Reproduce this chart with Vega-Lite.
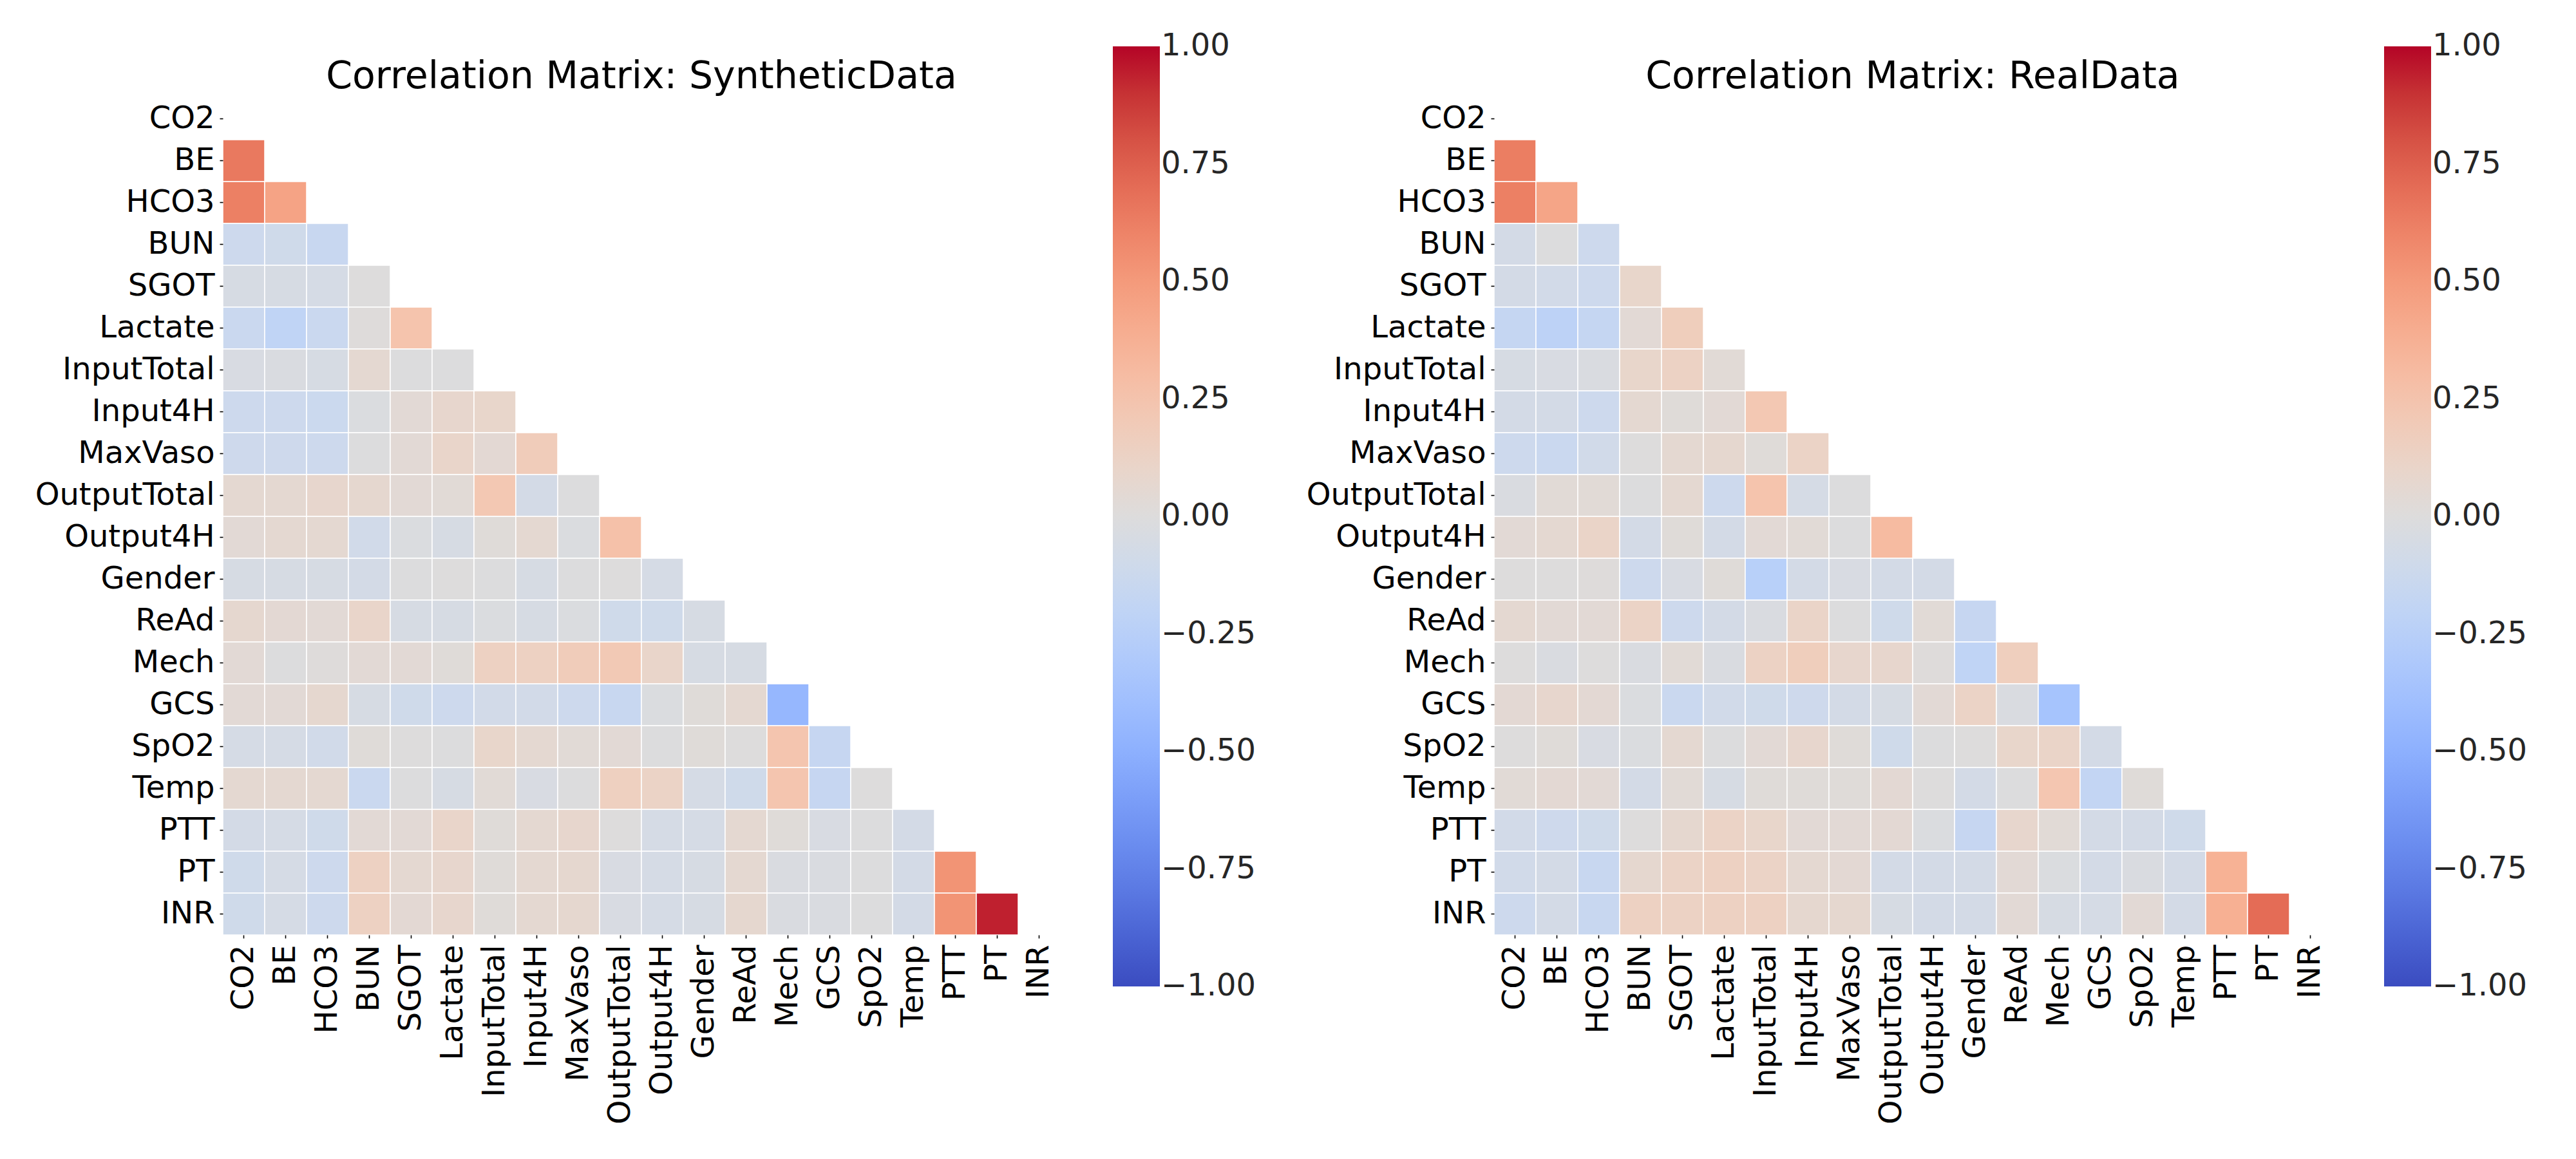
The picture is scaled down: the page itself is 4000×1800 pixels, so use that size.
{
  "$schema": "https://vega.github.io/schema/vega-lite/v6.json",
  "background": "white",
  "padding": {"left": 54, "top": 72, "right": 5, "bottom": 5},
  "datasets": {
    "synthetic": [
      {"row":"BE","col":"CO2","value":0.65},
      {"row":"HCO3","col":"CO2","value":0.62},{"row":"HCO3","col":"BE","value":0.45},
      {"row":"BUN","col":"CO2","value":-0.12},{"row":"BUN","col":"BE","value":-0.10},{"row":"BUN","col":"HCO3","value":-0.15},
      {"row":"SGOT","col":"CO2","value":-0.05},{"row":"SGOT","col":"BE","value":-0.05},{"row":"SGOT","col":"HCO3","value":-0.06},{"row":"SGOT","col":"BUN","value":0.00},
      {"row":"Lactate","col":"CO2","value":-0.14},{"row":"Lactate","col":"BE","value":-0.20},{"row":"Lactate","col":"HCO3","value":-0.14},{"row":"Lactate","col":"BUN","value":0.01},{"row":"Lactate","col":"SGOT","value":0.25},
      {"row":"InputTotal","col":"CO2","value":-0.04},{"row":"InputTotal","col":"BE","value":-0.03},{"row":"InputTotal","col":"HCO3","value":-0.05},{"row":"InputTotal","col":"BUN","value":0.06},{"row":"InputTotal","col":"SGOT","value":-0.01},{"row":"InputTotal","col":"Lactate","value":-0.01},
      {"row":"Input4H","col":"CO2","value":-0.12},{"row":"Input4H","col":"BE","value":-0.12},{"row":"Input4H","col":"HCO3","value":-0.13},{"row":"Input4H","col":"BUN","value":-0.02},{"row":"Input4H","col":"SGOT","value":0.04},{"row":"Input4H","col":"Lactate","value":0.08},{"row":"Input4H","col":"InputTotal","value":0.09},
      {"row":"MaxVaso","col":"CO2","value":-0.11},{"row":"MaxVaso","col":"BE","value":-0.11},{"row":"MaxVaso","col":"HCO3","value":-0.12},{"row":"MaxVaso","col":"BUN","value":-0.01},{"row":"MaxVaso","col":"SGOT","value":0.04},{"row":"MaxVaso","col":"Lactate","value":0.10},{"row":"MaxVaso","col":"InputTotal","value":0.05},{"row":"MaxVaso","col":"Input4H","value":0.18},
      {"row":"OutputTotal","col":"CO2","value":0.06},{"row":"OutputTotal","col":"BE","value":0.06},{"row":"OutputTotal","col":"HCO3","value":0.08},{"row":"OutputTotal","col":"BUN","value":0.07},{"row":"OutputTotal","col":"SGOT","value":0.04},{"row":"OutputTotal","col":"Lactate","value":0.03},{"row":"OutputTotal","col":"InputTotal","value":0.22},{"row":"OutputTotal","col":"Input4H","value":-0.07},{"row":"OutputTotal","col":"MaxVaso","value":-0.01},
      {"row":"Output4H","col":"CO2","value":0.04},{"row":"Output4H","col":"BE","value":0.06},{"row":"Output4H","col":"HCO3","value":0.06},{"row":"Output4H","col":"BUN","value":-0.09},{"row":"Output4H","col":"SGOT","value":-0.02},{"row":"Output4H","col":"Lactate","value":-0.05},{"row":"Output4H","col":"InputTotal","value":0.02},{"row":"Output4H","col":"Input4H","value":0.06},{"row":"Output4H","col":"MaxVaso","value":-0.02},{"row":"Output4H","col":"OutputTotal","value":0.27},
      {"row":"Gender","col":"CO2","value":-0.05},{"row":"Gender","col":"BE","value":-0.05},{"row":"Gender","col":"HCO3","value":-0.05},{"row":"Gender","col":"BUN","value":-0.07},{"row":"Gender","col":"SGOT","value":-0.01},{"row":"Gender","col":"Lactate","value":0.00},{"row":"Gender","col":"InputTotal","value":-0.01},{"row":"Gender","col":"Input4H","value":-0.05},{"row":"Gender","col":"MaxVaso","value":-0.01},{"row":"Gender","col":"OutputTotal","value":0.00},{"row":"Gender","col":"Output4H","value":-0.06},
      {"row":"ReAd","col":"CO2","value":0.07},{"row":"ReAd","col":"BE","value":0.05},{"row":"ReAd","col":"HCO3","value":0.04},{"row":"ReAd","col":"BUN","value":0.10},{"row":"ReAd","col":"SGOT","value":-0.05},{"row":"ReAd","col":"Lactate","value":-0.05},{"row":"ReAd","col":"InputTotal","value":-0.02},{"row":"ReAd","col":"Input4H","value":-0.05},{"row":"ReAd","col":"MaxVaso","value":-0.02},{"row":"ReAd","col":"OutputTotal","value":-0.10},{"row":"ReAd","col":"Output4H","value":-0.10},{"row":"ReAd","col":"Gender","value":-0.05},
      {"row":"Mech","col":"CO2","value":0.04},{"row":"Mech","col":"BE","value":-0.01},{"row":"Mech","col":"HCO3","value":0.01},{"row":"Mech","col":"BUN","value":0.04},{"row":"Mech","col":"SGOT","value":0.04},{"row":"Mech","col":"Lactate","value":0.02},{"row":"Mech","col":"InputTotal","value":0.14},{"row":"Mech","col":"Input4H","value":0.14},{"row":"Mech","col":"MaxVaso","value":0.18},{"row":"Mech","col":"OutputTotal","value":0.21},{"row":"Mech","col":"Output4H","value":0.10},{"row":"Mech","col":"Gender","value":-0.05},{"row":"Mech","col":"ReAd","value":-0.05},
      {"row":"GCS","col":"CO2","value":0.04},{"row":"GCS","col":"BE","value":0.04},{"row":"GCS","col":"HCO3","value":0.07},{"row":"GCS","col":"BUN","value":-0.05},{"row":"GCS","col":"SGOT","value":-0.10},{"row":"GCS","col":"Lactate","value":-0.12},{"row":"GCS","col":"InputTotal","value":-0.08},{"row":"GCS","col":"Input4H","value":-0.08},{"row":"GCS","col":"MaxVaso","value":-0.12},{"row":"GCS","col":"OutputTotal","value":-0.15},{"row":"GCS","col":"Output4H","value":-0.02},{"row":"GCS","col":"Gender","value":0.02},{"row":"GCS","col":"ReAd","value":0.06},{"row":"GCS","col":"Mech","value":-0.45},
      {"row":"SpO2","col":"CO2","value":-0.06},{"row":"SpO2","col":"BE","value":-0.06},{"row":"SpO2","col":"HCO3","value":-0.09},{"row":"SpO2","col":"BUN","value":0.02},{"row":"SpO2","col":"SGOT","value":0.00},{"row":"SpO2","col":"Lactate","value":-0.01},{"row":"SpO2","col":"InputTotal","value":0.09},{"row":"SpO2","col":"Input4H","value":0.06},{"row":"SpO2","col":"MaxVaso","value":0.03},{"row":"SpO2","col":"OutputTotal","value":0.04},{"row":"SpO2","col":"Output4H","value":-0.01},{"row":"SpO2","col":"Gender","value":0.02},{"row":"SpO2","col":"ReAd","value":0.00},{"row":"SpO2","col":"Mech","value":0.24},{"row":"SpO2","col":"GCS","value":-0.16},
      {"row":"Temp","col":"CO2","value":0.06},{"row":"Temp","col":"BE","value":0.06},{"row":"Temp","col":"HCO3","value":0.06},{"row":"Temp","col":"BUN","value":-0.14},{"row":"Temp","col":"SGOT","value":-0.01},{"row":"Temp","col":"Lactate","value":-0.05},{"row":"Temp","col":"InputTotal","value":0.03},{"row":"Temp","col":"Input4H","value":-0.04},{"row":"Temp","col":"MaxVaso","value":-0.01},{"row":"Temp","col":"OutputTotal","value":0.15},{"row":"Temp","col":"Output4H","value":0.12},{"row":"Temp","col":"Gender","value":-0.06},{"row":"Temp","col":"ReAd","value":-0.10},{"row":"Temp","col":"Mech","value":0.24},{"row":"Temp","col":"GCS","value":-0.16},{"row":"Temp","col":"SpO2","value":0.00},
      {"row":"PTT","col":"CO2","value":-0.07},{"row":"PTT","col":"BE","value":-0.06},{"row":"PTT","col":"HCO3","value":-0.10},{"row":"PTT","col":"BUN","value":0.04},{"row":"PTT","col":"SGOT","value":0.04},{"row":"PTT","col":"Lactate","value":0.10},{"row":"PTT","col":"InputTotal","value":0.02},{"row":"PTT","col":"Input4H","value":0.06},{"row":"PTT","col":"MaxVaso","value":0.08},{"row":"PTT","col":"OutputTotal","value":0.00},{"row":"PTT","col":"Output4H","value":-0.06},{"row":"PTT","col":"Gender","value":-0.06},{"row":"PTT","col":"ReAd","value":0.06},{"row":"PTT","col":"Mech","value":0.02},{"row":"PTT","col":"GCS","value":-0.04},{"row":"PTT","col":"SpO2","value":-0.01},{"row":"PTT","col":"Temp","value":-0.07},
      {"row":"PT","col":"CO2","value":-0.10},{"row":"PT","col":"BE","value":-0.06},{"row":"PT","col":"HCO3","value":-0.12},{"row":"PT","col":"BUN","value":0.14},{"row":"PT","col":"SGOT","value":0.06},{"row":"PT","col":"Lactate","value":0.08},{"row":"PT","col":"InputTotal","value":0.02},{"row":"PT","col":"Input4H","value":0.06},{"row":"PT","col":"MaxVaso","value":0.07},{"row":"PT","col":"OutputTotal","value":-0.04},{"row":"PT","col":"Output4H","value":-0.06},{"row":"PT","col":"Gender","value":-0.05},{"row":"PT","col":"ReAd","value":0.06},{"row":"PT","col":"Mech","value":-0.03},{"row":"PT","col":"GCS","value":-0.03},{"row":"PT","col":"SpO2","value":-0.01},{"row":"PT","col":"Temp","value":-0.07},{"row":"PT","col":"PTT","value":0.53},
      {"row":"INR","col":"CO2","value":-0.10},{"row":"INR","col":"BE","value":-0.06},{"row":"INR","col":"HCO3","value":-0.12},{"row":"INR","col":"BUN","value":0.14},{"row":"INR","col":"SGOT","value":0.05},{"row":"INR","col":"Lactate","value":0.08},{"row":"INR","col":"InputTotal","value":0.02},{"row":"INR","col":"Input4H","value":0.06},{"row":"INR","col":"MaxVaso","value":0.07},{"row":"INR","col":"OutputTotal","value":-0.04},{"row":"INR","col":"Output4H","value":-0.06},{"row":"INR","col":"Gender","value":-0.05},{"row":"INR","col":"ReAd","value":0.07},{"row":"INR","col":"Mech","value":-0.03},{"row":"INR","col":"GCS","value":-0.03},{"row":"INR","col":"SpO2","value":-0.01},{"row":"INR","col":"Temp","value":-0.07},{"row":"INR","col":"PTT","value":0.53},{"row":"INR","col":"PT","value":0.94}
    ],
    "real": [
      {"row":"BE","col":"CO2","value":0.63},
      {"row":"HCO3","col":"CO2","value":0.62},{"row":"HCO3","col":"BE","value":0.44},
      {"row":"BUN","col":"CO2","value":-0.07},{"row":"BUN","col":"BE","value":-0.01},{"row":"BUN","col":"HCO3","value":-0.12},
      {"row":"SGOT","col":"CO2","value":-0.07},{"row":"SGOT","col":"BE","value":-0.08},{"row":"SGOT","col":"HCO3","value":-0.12},{"row":"SGOT","col":"BUN","value":0.09},
      {"row":"Lactate","col":"CO2","value":-0.17},{"row":"Lactate","col":"BE","value":-0.22},{"row":"Lactate","col":"HCO3","value":-0.17},{"row":"Lactate","col":"BUN","value":0.04},{"row":"Lactate","col":"SGOT","value":0.17},
      {"row":"InputTotal","col":"CO2","value":-0.05},{"row":"InputTotal","col":"BE","value":-0.04},{"row":"InputTotal","col":"HCO3","value":-0.03},{"row":"InputTotal","col":"BUN","value":0.09},{"row":"InputTotal","col":"SGOT","value":0.13},{"row":"InputTotal","col":"Lactate","value":0.03},
      {"row":"Input4H","col":"CO2","value":-0.07},{"row":"Input4H","col":"BE","value":-0.07},{"row":"Input4H","col":"HCO3","value":-0.12},{"row":"Input4H","col":"BUN","value":0.06},{"row":"Input4H","col":"SGOT","value":0.02},{"row":"Input4H","col":"Lactate","value":0.04},{"row":"Input4H","col":"InputTotal","value":0.22},
      {"row":"MaxVaso","col":"CO2","value":-0.12},{"row":"MaxVaso","col":"BE","value":-0.14},{"row":"MaxVaso","col":"HCO3","value":-0.09},{"row":"MaxVaso","col":"BUN","value":0.00},{"row":"MaxVaso","col":"SGOT","value":0.06},{"row":"MaxVaso","col":"Lactate","value":0.07},{"row":"MaxVaso","col":"InputTotal","value":0.02},{"row":"MaxVaso","col":"Input4H","value":0.12},
      {"row":"OutputTotal","col":"CO2","value":-0.03},{"row":"OutputTotal","col":"BE","value":0.03},{"row":"OutputTotal","col":"HCO3","value":0.03},{"row":"OutputTotal","col":"BUN","value":-0.01},{"row":"OutputTotal","col":"SGOT","value":0.06},{"row":"OutputTotal","col":"Lactate","value":-0.12},{"row":"OutputTotal","col":"InputTotal","value":0.25},{"row":"OutputTotal","col":"Input4H","value":-0.06},{"row":"OutputTotal","col":"MaxVaso","value":-0.01},
      {"row":"Output4H","col":"CO2","value":0.04},{"row":"Output4H","col":"BE","value":0.06},{"row":"Output4H","col":"HCO3","value":0.11},{"row":"Output4H","col":"BUN","value":-0.07},{"row":"Output4H","col":"SGOT","value":0.02},{"row":"Output4H","col":"Lactate","value":-0.07},{"row":"Output4H","col":"InputTotal","value":0.04},{"row":"Output4H","col":"Input4H","value":0.03},{"row":"Output4H","col":"MaxVaso","value":-0.01},{"row":"Output4H","col":"OutputTotal","value":0.31},
      {"row":"Gender","col":"CO2","value":0.00},{"row":"Gender","col":"BE","value":0.00},{"row":"Gender","col":"HCO3","value":0.01},{"row":"Gender","col":"BUN","value":-0.12},{"row":"Gender","col":"SGOT","value":-0.04},{"row":"Gender","col":"Lactate","value":0.02},{"row":"Gender","col":"InputTotal","value":-0.25},{"row":"Gender","col":"Input4H","value":-0.07},{"row":"Gender","col":"MaxVaso","value":-0.04},{"row":"Gender","col":"OutputTotal","value":-0.07},{"row":"Gender","col":"Output4H","value":-0.07},
      {"row":"ReAd","col":"CO2","value":0.06},{"row":"ReAd","col":"BE","value":0.04},{"row":"ReAd","col":"HCO3","value":0.04},{"row":"ReAd","col":"BUN","value":0.12},{"row":"ReAd","col":"SGOT","value":-0.12},{"row":"ReAd","col":"Lactate","value":-0.07},{"row":"ReAd","col":"InputTotal","value":-0.03},{"row":"ReAd","col":"Input4H","value":0.11},{"row":"ReAd","col":"MaxVaso","value":-0.01},{"row":"ReAd","col":"OutputTotal","value":-0.10},{"row":"ReAd","col":"Output4H","value":0.03},{"row":"ReAd","col":"Gender","value":-0.16},
      {"row":"Mech","col":"CO2","value":0.00},{"row":"Mech","col":"BE","value":-0.03},{"row":"Mech","col":"HCO3","value":0.00},{"row":"Mech","col":"BUN","value":-0.03},{"row":"Mech","col":"SGOT","value":0.03},{"row":"Mech","col":"Lactate","value":-0.03},{"row":"Mech","col":"InputTotal","value":0.13},{"row":"Mech","col":"Input4H","value":0.17},{"row":"Mech","col":"MaxVaso","value":0.08},{"row":"Mech","col":"OutputTotal","value":0.08},{"row":"Mech","col":"Output4H","value":0.01},{"row":"Mech","col":"Gender","value":-0.20},{"row":"Mech","col":"ReAd","value":0.16},
      {"row":"GCS","col":"CO2","value":0.05},{"row":"GCS","col":"BE","value":0.08},{"row":"GCS","col":"HCO3","value":0.05},{"row":"GCS","col":"BUN","value":-0.02},{"row":"GCS","col":"SGOT","value":-0.14},{"row":"GCS","col":"Lactate","value":-0.09},{"row":"GCS","col":"InputTotal","value":-0.10},{"row":"GCS","col":"Input4H","value":-0.11},{"row":"GCS","col":"MaxVaso","value":-0.07},{"row":"GCS","col":"OutputTotal","value":-0.05},{"row":"GCS","col":"Output4H","value":0.04},{"row":"GCS","col":"Gender","value":0.12},{"row":"GCS","col":"ReAd","value":-0.03},{"row":"GCS","col":"Mech","value":-0.36},
      {"row":"SpO2","col":"CO2","value":0.00},{"row":"SpO2","col":"BE","value":0.02},{"row":"SpO2","col":"HCO3","value":-0.04},{"row":"SpO2","col":"BUN","value":-0.02},{"row":"SpO2","col":"SGOT","value":0.06},{"row":"SpO2","col":"Lactate","value":-0.01},{"row":"SpO2","col":"InputTotal","value":0.04},{"row":"SpO2","col":"Input4H","value":0.08},{"row":"SpO2","col":"MaxVaso","value":0.02},{"row":"SpO2","col":"OutputTotal","value":-0.10},{"row":"SpO2","col":"Output4H","value":-0.01},{"row":"SpO2","col":"Gender","value":0.00},{"row":"SpO2","col":"ReAd","value":0.09},{"row":"SpO2","col":"Mech","value":0.11},{"row":"SpO2","col":"GCS","value":-0.07},
      {"row":"Temp","col":"CO2","value":0.03},{"row":"Temp","col":"BE","value":0.05},{"row":"Temp","col":"HCO3","value":0.04},{"row":"Temp","col":"BUN","value":-0.07},{"row":"Temp","col":"SGOT","value":0.03},{"row":"Temp","col":"Lactate","value":-0.05},{"row":"Temp","col":"InputTotal","value":0.02},{"row":"Temp","col":"Input4H","value":0.02},{"row":"Temp","col":"MaxVaso","value":0.02},{"row":"Temp","col":"OutputTotal","value":0.05},{"row":"Temp","col":"Output4H","value":0.00},{"row":"Temp","col":"Gender","value":-0.07},{"row":"Temp","col":"ReAd","value":-0.01},{"row":"Temp","col":"Mech","value":0.23},{"row":"Temp","col":"GCS","value":-0.18},{"row":"Temp","col":"SpO2","value":0.02},
      {"row":"PTT","col":"CO2","value":-0.08},{"row":"PTT","col":"BE","value":-0.11},{"row":"PTT","col":"HCO3","value":-0.10},{"row":"PTT","col":"BUN","value":0.00},{"row":"PTT","col":"SGOT","value":0.07},{"row":"PTT","col":"Lactate","value":0.12},{"row":"PTT","col":"InputTotal","value":0.09},{"row":"PTT","col":"Input4H","value":0.04},{"row":"PTT","col":"MaxVaso","value":0.04},{"row":"PTT","col":"OutputTotal","value":0.05},{"row":"PTT","col":"Output4H","value":-0.02},{"row":"PTT","col":"Gender","value":-0.16},{"row":"PTT","col":"ReAd","value":0.08},{"row":"PTT","col":"Mech","value":0.03},{"row":"PTT","col":"GCS","value":-0.07},{"row":"PTT","col":"SpO2","value":-0.07},{"row":"PTT","col":"Temp","value":-0.10},
      {"row":"PT","col":"CO2","value":-0.09},{"row":"PT","col":"BE","value":-0.07},{"row":"PT","col":"HCO3","value":-0.15},{"row":"PT","col":"BUN","value":0.07},{"row":"PT","col":"SGOT","value":0.12},{"row":"PT","col":"Lactate","value":0.14},{"row":"PT","col":"InputTotal","value":0.12},{"row":"PT","col":"Input4H","value":0.06},{"row":"PT","col":"MaxVaso","value":0.05},{"row":"PT","col":"OutputTotal","value":-0.07},{"row":"PT","col":"Output4H","value":-0.07},{"row":"PT","col":"Gender","value":-0.07},{"row":"PT","col":"ReAd","value":0.04},{"row":"PT","col":"Mech","value":-0.02},{"row":"PT","col":"GCS","value":-0.07},{"row":"PT","col":"SpO2","value":-0.03},{"row":"PT","col":"Temp","value":-0.07},{"row":"PT","col":"PTT","value":0.37},
      {"row":"INR","col":"CO2","value":-0.12},{"row":"INR","col":"BE","value":-0.07},{"row":"INR","col":"HCO3","value":-0.15},{"row":"INR","col":"BUN","value":0.14},{"row":"INR","col":"SGOT","value":0.13},{"row":"INR","col":"Lactate","value":0.14},{"row":"INR","col":"InputTotal","value":0.14},{"row":"INR","col":"Input4H","value":0.07},{"row":"INR","col":"MaxVaso","value":0.07},{"row":"INR","col":"OutputTotal","value":-0.05},{"row":"INR","col":"Output4H","value":-0.07},{"row":"INR","col":"Gender","value":-0.07},{"row":"INR","col":"ReAd","value":0.04},{"row":"INR","col":"Mech","value":-0.05},{"row":"INR","col":"GCS","value":-0.06},{"row":"INR","col":"SpO2","value":0.04},{"row":"INR","col":"Temp","value":-0.07},{"row":"INR","col":"PTT","value":0.38},{"row":"INR","col":"PT","value":0.70}
    ]
  },
  "hconcat": [
    {
      "data": {"name": "synthetic"},
      "width": 1300,
      "height": 1300,
      "title": {"text": "Correlation Matrix: SyntheticData"},
      "mark": {"type": "rect", "stroke": "white", "strokeWidth": 1.5},
      "encoding": {
        "x": {"field": "col", "type": "nominal", "scale": {"domain": ["CO2","BE","HCO3","BUN","SGOT","Lactate","InputTotal","Input4H","MaxVaso","OutputTotal","Output4H","Gender","ReAd","Mech","GCS","SpO2","Temp","PTT","PT","INR"], "paddingInner": 0, "paddingOuter": 0}, "axis": {"title": null}},
        "y": {"field": "row", "type": "nominal", "scale": {"domain": ["CO2","BE","HCO3","BUN","SGOT","Lactate","InputTotal","Input4H","MaxVaso","OutputTotal","Output4H","Gender","ReAd","Mech","GCS","SpO2","Temp","PTT","PT","INR"], "paddingInner": 0, "paddingOuter": 0}, "axis": {"title": null}},
        "color": {"field": "value", "type": "quantitative",
          "scale": {"domain": [-1,-0.875,-0.75,-0.625,-0.5,-0.375,-0.25,-0.125,0,0.125,0.25,0.375,0.5,0.625,0.75,0.875,1],
                    "range": ["#3b4cc0","#4d68d7","#6282ea","#779af7","#8db0fe","#a3c2fe","#b8d0f9","#ccd9ee","#dddcdc","#ecd3c5","#f5c4ad","#f7b194","#f49a7b","#ec7f63","#de604d","#cb3e38","#b40426"],
                    "interpolate": "rgb"},
          "legend": {"orient": "none", "legendX": 1382, "legendY": -80, "direction": "vertical", "gradientLength": 1460, "gradientThickness": 73, "values": [-1,-0.75,-0.5,-0.25,0,0.25,0.5,0.75,1], "format": ".2f", "title": null, "encode": {"labels": {"update": {"baseline": {"value": "middle"}}}}}
        }
      }
    },
    {
      "data": {"name": "real"},
      "width": 1300,
      "height": 1300,
      "title": {"text": "Correlation Matrix: RealData"},
      "mark": {"type": "rect", "stroke": "white", "strokeWidth": 1.5},
      "encoding": {
        "x": {"field": "col", "type": "nominal", "scale": {"domain": ["CO2","BE","HCO3","BUN","SGOT","Lactate","InputTotal","Input4H","MaxVaso","OutputTotal","Output4H","Gender","ReAd","Mech","GCS","SpO2","Temp","PTT","PT","INR"], "paddingInner": 0, "paddingOuter": 0}, "axis": {"title": null}},
        "y": {"field": "row", "type": "nominal", "scale": {"domain": ["CO2","BE","HCO3","BUN","SGOT","Lactate","InputTotal","Input4H","MaxVaso","OutputTotal","Output4H","Gender","ReAd","Mech","GCS","SpO2","Temp","PTT","PT","INR"], "paddingInner": 0, "paddingOuter": 0}, "axis": {"title": null}},
        "color": {"field": "value", "type": "quantitative",
          "scale": {"domain": [-1,-0.875,-0.75,-0.625,-0.5,-0.375,-0.25,-0.125,0,0.125,0.25,0.375,0.5,0.625,0.75,0.875,1],
                    "range": ["#3b4cc0","#4d68d7","#6282ea","#779af7","#8db0fe","#a3c2fe","#b8d0f9","#ccd9ee","#dddcdc","#ecd3c5","#f5c4ad","#f7b194","#f49a7b","#ec7f63","#de604d","#cb3e38","#b40426"],
                    "interpolate": "rgb"},
          "legend": {"orient": "none", "legendX": 1382, "legendY": -80, "direction": "vertical", "gradientLength": 1460, "gradientThickness": 73, "values": [-1,-0.75,-0.5,-0.25,0,0.25,0.5,0.75,1], "format": ".2f", "title": null, "encode": {"labels": {"update": {"baseline": {"value": "middle"}}}}}
        }
      }
    }
  ],
  "spacing": 674,
  "bounds": "flush",
  "resolve": {"scale": {"color": "independent"}},
  "config": {
    "font": "DejaVu Sans",
    "view": {"stroke": null},
    "axis": {"domain": false, "grid": false, "ticks": true, "tickSize": 5, "tickWidth": 1.6, "tickColor": "#000000", "labelFontSize": 48, "labelColor": "#000000", "labelFont": "DejaVu Sans", "labelLimit": 0, "labelOverlap": false},
    "axisX": {"labelAngle": 270, "labelPadding": 10},
    "axisY": {"labelPadding": 8},
    "legend": {"labelFontSize": 48, "labelFont": "DejaVu Sans", "labelColor": "#262626", "labelOffset": 13, "gradientStrokeWidth": 0, "labelLimit": 0},
    "title": {"fontSize": 58.5, "fontWeight": "normal", "font": "DejaVu Sans", "color": "#000000", "anchor": "middle", "offset": -77}
  }
}
